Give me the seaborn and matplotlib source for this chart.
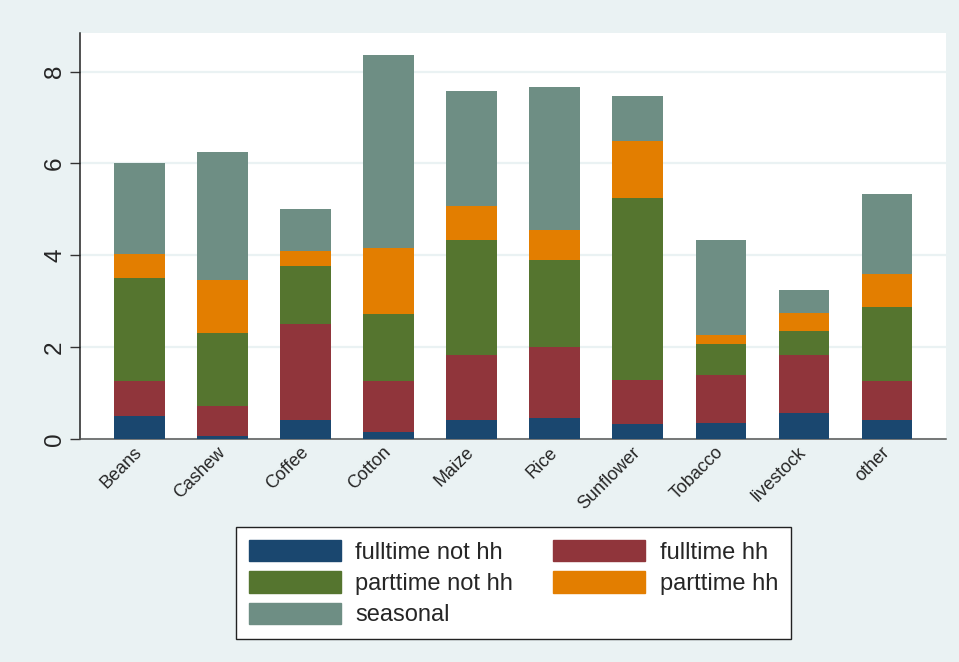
import seaborn as sns
import matplotlib.pyplot as plt
import matplotlib.patches as mpatches
import pandas as pd
import numpy as np


#====================================================================================================
crops = ['Beans', 'Cashew', 'Coffee', 'Cotton', 'Maize',
         'Rice', 'Sunflower', 'Tobacco', 'livestock', 'other']

fulltime_not_hh = [0.50, 0.05, 0.41, 0.15, 0.41, 0.46, 0.31, 0.34, 0.56, 0.41]
fulltime_hh     = [0.76, 0.66, 2.10, 1.11, 1.42, 1.54, 0.98, 1.05, 1.26, 0.85]
parttime_not_hh = [2.24, 1.59, 1.26, 1.46, 2.51, 1.90, 3.96, 0.68, 0.52, 1.62]
parttime_hh     = [0.52, 1.17, 0.32, 1.44, 0.74, 0.65, 1.23, 0.20, 0.39, 0.72]
seasonal        = [2.00, 2.77, 0.91, 4.20, 2.50, 3.12, 0.98, 2.06, 0.51, 1.73]

series_names  = ['fulltime not hh', 'fulltime hh', 'parttime not hh', 'parttime hh', 'seasonal']
series_values = [fulltime_not_hh, fulltime_hh, parttime_not_hh, parttime_hh, seasonal]
series_colors = ['#1a476f', '#90353b', '#55752f', '#e37e00', '#6e8e84']

y_ticks = [0, 2, 4, 6, 8]
#====================================================================================================


bg = '#eaf2f3'

sns.set_style('white')
plt.rcParams['font.family'] = ['Liberation Sans', 'DejaVu Sans']

df = pd.DataFrame(dict(zip(series_names, series_values)), index=crops)
cum = df.cumsum(axis=1)
cum['crop'] = crops


fig = plt.figure(figsize=(9.59, 6.62), dpi=100, facecolor=bg)
ax = fig.add_axes([0.0834, 0.3373, 0.9030, 0.6136])
ax.set_facecolor('white')

# draw the stacks from the top layer down so each one covers the one beneath
for name, color in reversed(list(zip(series_names, series_colors))):
    sns.barplot(data=cum, x='crop', y=name, color=color, width=0.61,
                linewidth=0, saturation=1, ax=ax, zorder=3)

ax.set_xlim(-0.716, 9.71)
ax.set_ylim(0, 8.855)
ax.set_xlabel('')
ax.set_ylabel('')

ax.set_yticks(y_ticks)
ax.set_yticklabels([str(t) for t in y_ticks], rotation=90, va='center', fontsize=17.5)
ax.tick_params(axis='y', length=7, width=1, color='#333333', pad=3, direction='out', left=True)
ax.tick_params(axis='x', length=0, pad=8)
plt.setp(ax.get_xticklabels(), rotation=45, ha='right', va='center',
         rotation_mode='anchor', fontsize=13)

ax.grid(axis='y', color=bg, linewidth=1.6, zorder=0)
ax.set_axisbelow(True)

for s in ['top', 'right']:
    ax.spines[s].set_visible(False)
ax.spines['left'].set_color('#222222')
ax.spines['left'].set_linewidth(1.1)
ax.spines['bottom'].set_color('#555555')
ax.spines['bottom'].set_linewidth(1.1)


# legend filled row by row like stata: reorder for matplotlib's column filling
handles = [mpatches.Patch(color=c, label=n) for n, c in zip(series_names, series_colors)]
order = [0, 2, 4, 1, 3]
leg = fig.legend([handles[i] for i in order], [series_names[i] for i in order],
                 ncol=2, loc='center', bbox_to_anchor=(0.5355, 0.119),
                 fontsize=17, frameon=True, fancybox=False,
                 handlelength=3.9, handleheight=1.0, handletextpad=0.6,
                 columnspacing=1.7, labelspacing=0.33, borderpad=0.55)
leg.get_frame().set_edgecolor('#222222')
leg.get_frame().set_linewidth(1.0)
leg.get_frame().set_facecolor('white')
leg.get_frame().set_alpha(1)

plt.savefig('out.png', dpi=100, facecolor=bg)
